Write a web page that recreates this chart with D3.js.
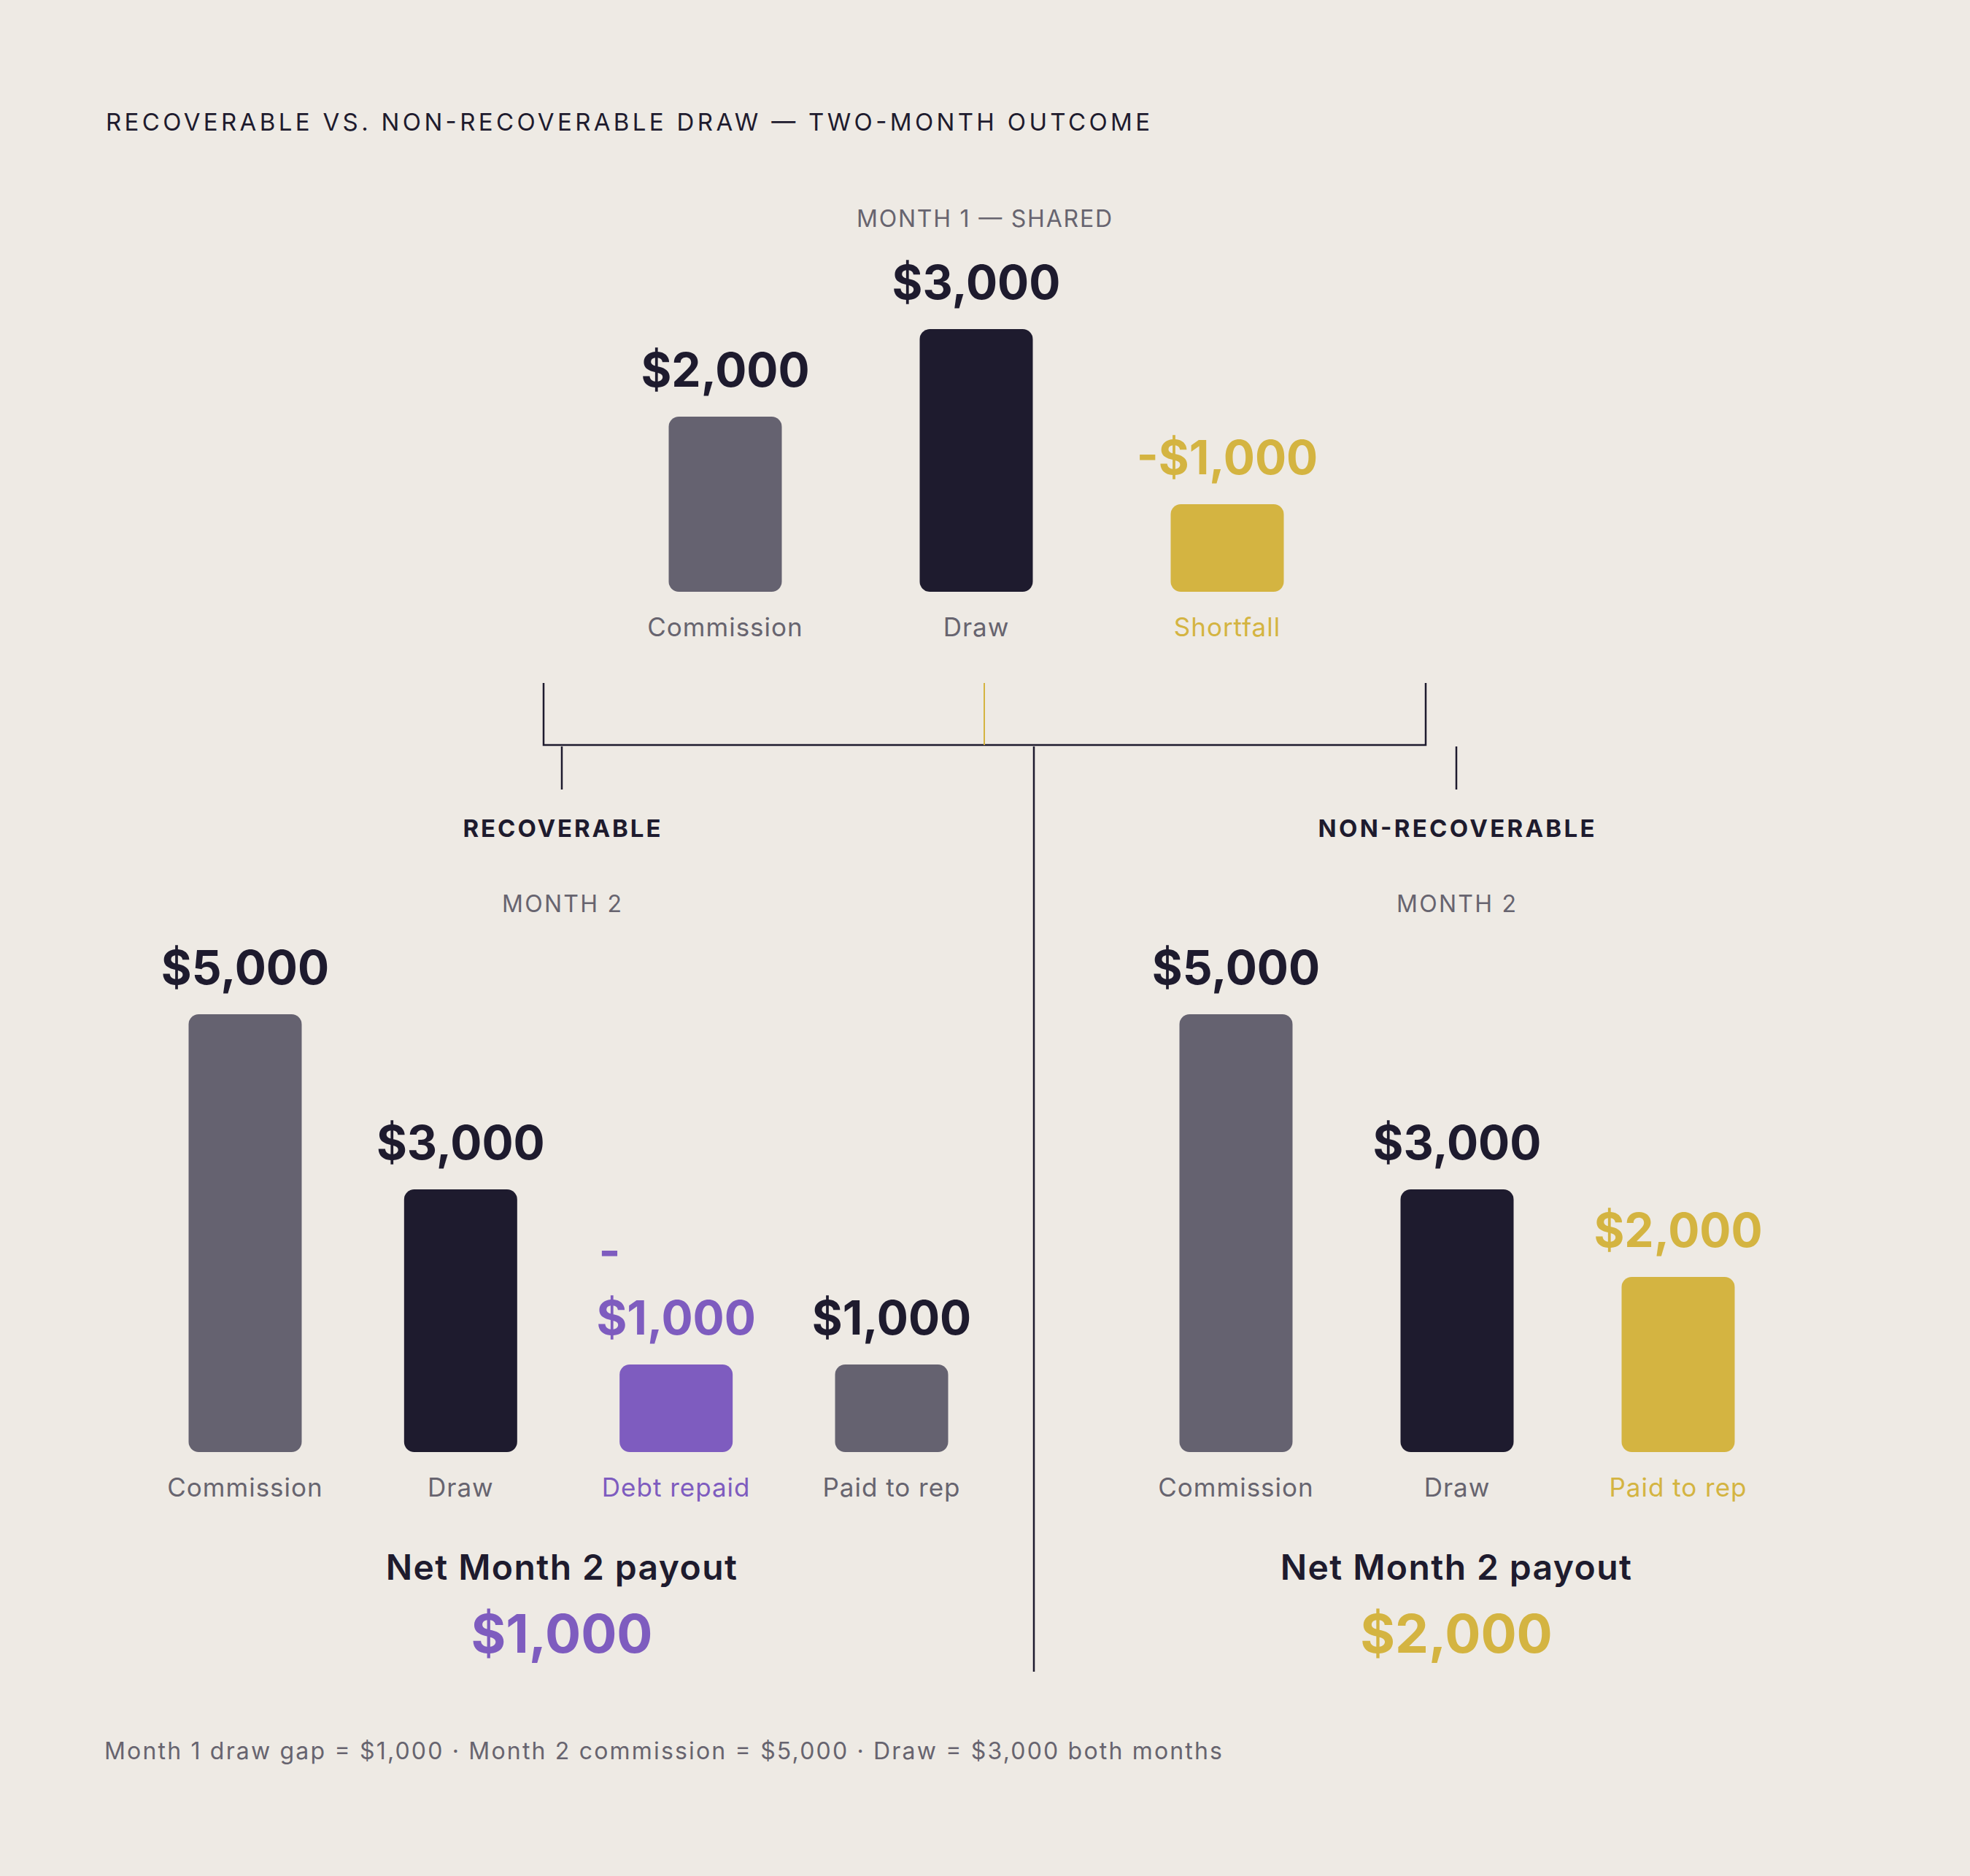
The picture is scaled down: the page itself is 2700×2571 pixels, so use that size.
<!DOCTYPE html>
<html>
<head>
<meta charset="utf-8">
<script src="https://cdn.jsdelivr.net/npm/d3@7"></script>
<style>
  html, body { margin: 0; padding: 0; background: #EEEAE4; }
  svg { display: block; }
  text { font-family: Inter, "Noto Sans", sans-serif; }
</style>
</head>
<body>
<svg id="chart" width="2700" height="2571"></svg>
<script>
// ---------------- data ----------------
const chartTitle = "RECOVERABLE VS. NON-RECOVERABLE DRAW — TWO-MONTH OUTCOME";
const month1Title = "MONTH 1 — SHARED";
const month1Categories = ["Commission", "Draw", "Shortfall"];
const month1Values = [2000, 3000, -1000];

const panelTitles = ["RECOVERABLE", "NON-RECOVERABLE"];
const month2Title = "MONTH 2";
const recoverableCategories = ["Commission", "Draw", "Debt repaid", "Paid to rep"];
const recoverableValues = [5000, 3000, -1000, 1000];
const nonRecoverableCategories = ["Commission", "Draw", "Paid to rep"];
const nonRecoverableValues = [5000, 3000, 2000];

const netLabel = "Net Month 2 payout";
const netPayouts = [1000, 2000];
const footnote = "Month 1 draw gap = $1,000 · Month 2 commission = $5,000 · Draw = $3,000 both months";

// ---------------- styles ----------------
const C = {
  bg: "#EEEAE4", dark: "#1E1B2E", grey: "#656270", text2: "#67646F",
  gold: "#D4B441", purple: "#7E5CBF"
};
const month1Bar = [C.grey, C.dark, C.gold];
const month1Txt = [C.dark, C.dark, C.gold];
const month1Cat = [C.text2, C.text2, C.gold];
const recBar = [C.grey, C.dark, C.purple, C.grey];
const recTxt = [C.dark, C.dark, C.purple, C.dark];
const recCat = [C.text2, C.text2, C.purple, C.text2];
const nonBar = [C.grey, C.dark, C.gold];
const nonTxt = [C.dark, C.dark, C.gold];
const nonCat = [C.text2, C.text2, C.gold];

const fmt = v => (v < 0 ? "-" : "") + d3.format("$,")(Math.abs(v));

const svg = d3.select("#chart");
svg.append("rect").attr("width", 2700).attr("height", 2571).attr("fill", C.bg);

// heights
const h = d3.scaleLinear().domain([0, 5000]).range([0, 600]);
const BAR_W = 155;

// title
svg.append("text").attr("x", 145).attr("y", 179)
  .attr("font-size", 33).attr("fill", C.dark)
  .attr("textLength", 1431).attr("lengthAdjust", "spacing")
  .text(chartTitle);

function drawGroup(g, cats, vals, x, base, barCol, txtCol, catCol, wrapNeg) {
  const data = cats.map((c, i) => ({ c, v: vals[i], i }));
  g.selectAll("rect.bar").data(data).join("rect")
    .attr("class", "bar")
    .attr("x", d => x(d.c) - BAR_W / 2)
    .attr("y", d => base - h(Math.abs(d.v)))
    .attr("width", BAR_W)
    .attr("height", d => h(Math.abs(d.v)))
    .attr("rx", 14).attr("ry", 14)
    .attr("fill", d => barCol[d.i]);
  const vl = g.selectAll("text.val").data(data).join("text")
    .attr("class", "val")
    .attr("x", d => x(d.c))
    .attr("y", d => base - h(Math.abs(d.v)) - 41)
    .attr("text-anchor", "middle")
    .attr("font-size", 64).attr("font-weight", 700)
    .attr("fill", d => txtCol[d.i]);
  vl.each(function (d) {
    const t = d3.select(this);
    if (wrapNeg && d.v < 0) {
      t.text(fmt(Math.abs(d.v)));
      const w = this.getComputedTextLength();
      g.append("text")
        .attr("x", x(d.c) - w / 2 + 3)
        .attr("y", base - h(Math.abs(d.v)) - 41 - 92)
        .attr("font-size", 64).attr("font-weight", 700)
        .attr("fill", txtCol[d.i])
        .text("-");
    } else {
      t.text(fmt(d.v));
    }
  });
  g.selectAll("text.cat").data(data).join("text")
    .attr("class", "cat")
    .attr("x", d => x(d.c))
    .attr("y", base + 61)
    .attr("text-anchor", "middle")
    .attr("font-size", 35)
    .attr("letter-spacing", 1)
    .attr("fill", d => catCol[d.i])
    .text(d => d.c);
}

// Month 1
svg.append("text").attr("x", 1349).attr("y", 311).attr("text-anchor", "middle")
  .attr("font-size", 32).attr("fill", C.text2)
  .attr("textLength", 350).attr("lengthAdjust", "spacing")
  .text(month1Title);
const x1 = d3.scalePoint().domain(month1Categories).range([994, 1682]);
drawGroup(svg.append("g"), month1Categories, month1Values, x1, 811, month1Bar, month1Txt, month1Cat, false);

// connectors
const lines = svg.append("g").attr("fill", "none");
lines.append("path").attr("d", "M745,936V1021H1954V936").attr("stroke", C.dark).attr("stroke-width", 2.5);
lines.append("line").attr("x1", 1349).attr("x2", 1349).attr("y1", 936).attr("y2", 1021)
  .attr("stroke", C.gold).attr("stroke-width", 2);
lines.append("line").attr("x1", 770).attr("x2", 770).attr("y1", 1023).attr("y2", 1082)
  .attr("stroke", C.dark).attr("stroke-width", 2.5);
lines.append("line").attr("x1", 1996).attr("x2", 1996).attr("y1", 1023).attr("y2", 1082)
  .attr("stroke", C.dark).attr("stroke-width", 2.5);
lines.append("line").attr("x1", 1417).attr("x2", 1417).attr("y1", 1023).attr("y2", 2291)
  .attr("stroke", C.dark).attr("stroke-width", 2.5);

// Panels
const panelCenters = [770, 1996];
const panelTitleWidths = [271, 379];
panelTitles.forEach((t, i) => {
  svg.append("text").attr("x", panelCenters[i]).attr("y", 1147).attr("text-anchor", "middle")
    .attr("font-size", 33).attr("font-weight", 700).attr("fill", C.dark)
    .attr("textLength", panelTitleWidths[i]).attr("lengthAdjust", "spacing")
    .text(t);
  svg.append("text").attr("x", panelCenters[i]).attr("y", 1250).attr("text-anchor", "middle")
    .attr("font-size", 32).attr("fill", C.text2)
    .attr("textLength", 164).attr("lengthAdjust", "spacing")
    .text(month2Title);
});

const xr = d3.scalePoint().domain(recoverableCategories).range([336, 1222]);
drawGroup(svg.append("g"), recoverableCategories, recoverableValues, xr, 1990, recBar, recTxt, recCat, true);
const xn = d3.scalePoint().domain(nonRecoverableCategories).range([1694, 2300]);
drawGroup(svg.append("g"), nonRecoverableCategories, nonRecoverableValues, xn, 1990, nonBar, nonTxt, nonCat, false);

// Net payouts
const netCol = [C.purple, C.gold];
netPayouts.forEach((v, i) => {
  svg.append("text").attr("x", panelCenters[i]).attr("y", 2165).attr("text-anchor", "middle")
    .attr("font-size", 48).attr("font-weight", 600).attr("fill", C.dark)
    .attr("letter-spacing", 1.4)
    .text(netLabel);
  svg.append("text").attr("x", panelCenters[i]).attr("y", 2265).attr("text-anchor", "middle")
    .attr("font-size", 73).attr("font-weight", 700).attr("fill", netCol[i])
    .text(fmt(v));
});

// footnote
svg.append("text").attr("x", 143).attr("y", 2411)
  .attr("font-size", 32).attr("fill", C.text2)
  .attr("textLength", 1532).attr("lengthAdjust", "spacing")
  .text(footnote);
</script>
</body>
</html>
